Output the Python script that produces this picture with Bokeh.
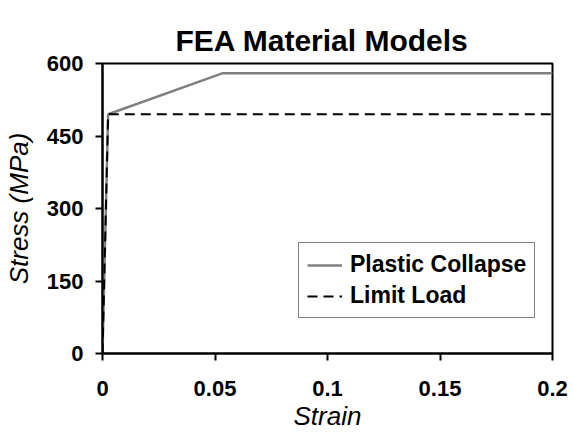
from bokeh.plotting import figure
from bokeh.models import FixedTicker, Legend, LegendItem
from bokeh.embed import file_html
from bokeh.resources import INLINE

# Data
plastic_strain = [0.0, 0.0025, 0.0535, 0.2]
plastic_stress = [0, 495, 580, 580]
limit_strain = [0.0, 0.0025, 0.2]
limit_stress = [0, 495, 495]
x_ticks = [0, 0.05, 0.1, 0.15, 0.2]
x_tick_labels = ["0", "0.05", "0.1", "0.15", "0.2"]
y_ticks = [0, 150, 300, 450, 600]
y_tick_labels = ["0", "150", "300", "450", "600"]

FONT = "Liberation Sans"

p = figure(width=573, height=433, output_backend="svg", toolbar_location=None,
           x_range=(0, 0.2), y_range=(0, 600),
           min_border_left=102, min_border_right=21, min_border_top=63, min_border_bottom=80)

p.title.text = "FEA Material Models"
p.title.text_font = FONT
p.title.text_font_size = "30px"
p.title.text_font_style = "bold"
p.title.text_color = "black"
p.title.align = "left"
p.title.offset = 73
p.title.standoff = 10
p.title.vertical_align = "top"

l1 = p.line(plastic_strain, plastic_stress, line_color="#808080", line_width=2.5)
l2 = p.line(limit_strain, limit_stress, line_color="black", line_width=2, line_dash="10 6")

p.xgrid.visible = False
p.ygrid.visible = False
p.outline_line_color = "black"
p.outline_line_width = 2
p.outline_line_alpha = 1

for ax in (p.xaxis[0], p.yaxis[0]):
    ax.axis_line_width = 2
    ax.axis_line_color = "black"
    ax.major_tick_line_width = 2
    ax.major_tick_in = 0
    ax.major_tick_out = 7
    ax.minor_tick_line_color = None
    ax.major_label_text_font = FONT
    ax.major_label_text_font_size = "22px"
    ax.major_label_text_font_style = "bold"
    ax.major_label_text_color = "black"
    ax.axis_label_text_font = FONT
    ax.axis_label_text_font_size = "26px"
    ax.axis_label_text_font_style = "italic"
    ax.axis_label_text_color = "black"

p.xaxis[0].ticker = FixedTicker(ticks=x_ticks)
p.xaxis[0].major_label_overrides = {t: l for t, l in zip(x_ticks, x_tick_labels)}
p.yaxis[0].ticker = FixedTicker(ticks=y_ticks)
p.yaxis[0].major_label_overrides = {t: l for t, l in zip(y_ticks, y_tick_labels)}
p.xaxis[0].axis_label = "Strain"
p.yaxis[0].axis_label = "Stress (MPa)"
p.xaxis[0].major_label_text_line_height = 1.0
p.xaxis[0].axis_label_text_line_height = 1.0
p.xaxis[0].major_label_standoff = 20
p.yaxis[0].major_label_standoff = 12
p.xaxis[0].axis_label_standoff = 2
p.yaxis[0].axis_label_standoff = 10

legend = Legend(items=[LegendItem(label="Plastic Collapse", renderers=[l1]),
                       LegendItem(label="Limit Load", renderers=[l2])],
                location=(196, 35))
legend.label_text_font = FONT
legend.label_text_font_size = "23px"
legend.label_text_font_style = "bold"
legend.label_text_color = "black"
legend.glyph_width = 35
legend.glyph_height = 26
legend.label_height = 26
legend.label_standoff = 8
legend.border_line_color = "black"
legend.border_line_width = 1.5
legend.padding = 8
legend.spacing = 4
legend.margin = 0
legend.background_fill_alpha = 1
p.add_layout(legend, "center")

open("out.html", "w").write(file_html(p, INLINE))
